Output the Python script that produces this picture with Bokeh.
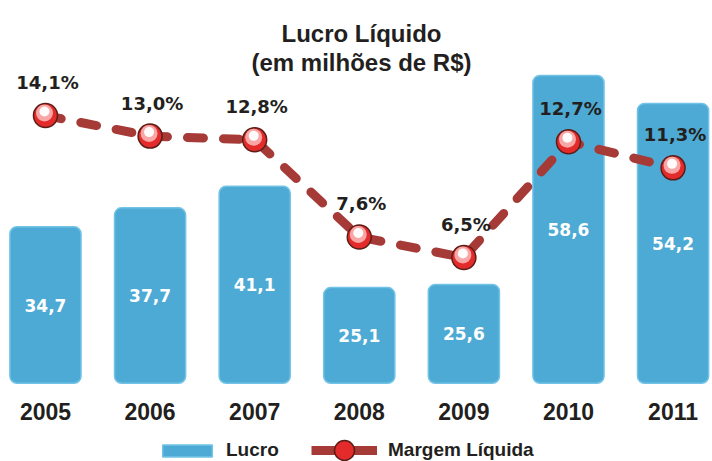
from bokeh.plotting import figure
from bokeh.models import Range1d, Label, Legend, LegendItem, ColumnDataSource
from bokeh.core.properties import value
from bokeh.embed import file_html
from bokeh.resources import INLINE

years = ["2005", "2006", "2007", "2008", "2009", "2010", "2011"]
lucro = [34.7, 37.7, 41.1, 25.1, 25.6, 58.6, 54.2]
lucro_labels = ["34,7", "37,7", "41,1", "25,1", "25,6", "58,6", "54,2"]
margem = [14.1, 13.0, 12.8, 7.6, 6.5, 12.7, 11.3]
margem_labels = ["14,1%", "13,0%", "12,8%", "7,6%", "6,5%", "12,7%", "11,3%"]
bar_base = 10.0

W, H = 712, 461
X0, X1 = -0.430, 6.377
Y0, Y1 = -2.37, 70.46
P0, P1 = -4.42, 20.26
px_x = W / (X1 - X0)
px_p = H / (P1 - P0)

xs = list(range(len(years)))
src = ColumnDataSource(dict(
    x=xs,
    lucro=lucro,
    mid=[(bar_base + v) / 2 for v in lucro],
    lucro_lbl=lucro_labels,
    margem=margem,
    margem_lbl=margem_labels,
    year=years,
    year_y=[5.53] * len(years),
    hx=[x - 1.0 / px_x for x in xs],
    hy2=[m + 2.5 / px_p for m in margem],
    hy3=[m + 4.0 / px_p for m in margem],
))

p = figure(width=W, height=H, output_backend="svg", toolbar_location=None,
           x_range=Range1d(X0, X1), y_range=Range1d(Y0, Y1),
           x_axis_location=None, y_axis_location=None,
           min_border=0, outline_line_color=None)
p.extra_y_ranges = {"pct": Range1d(P0, P1)}
p.xgrid.visible = False
p.ygrid.visible = False
p.background_fill_color = "white"

TXT = "#231f20"

bars = p.vbar(x="x", top="lucro", bottom=bar_base, width=0.68, source=src,
              fill_color="#4daad4", line_color="#72c3e6", line_width=1.5,
              border_radius=7)

p.text(x="x", y="mid", text="lucro_lbl", source=src, text_align="center",
       text_baseline="middle", text_color="white",
       text_font=value("DejaVu Sans"), text_font_style="bold",
       text_font_size="17px")

line = p.line(x="x", y="margem", source=src, y_range_name="pct",
              line_color="#a53a36", line_width=9, line_dash="16 20",
              line_cap="round")

m1 = p.scatter(x="x", y="margem", source=src, y_range_name="pct", size=24,
               fill_color="#e32b2b", line_color="#5b1d17", line_width=1.5)
p.scatter(x="hx", y="hy2", source=src, y_range_name="pct", size=17,
          fill_color="#f9b4b4", fill_alpha=0.9, line_color=None)
p.scatter(x="hx", y="hy3", source=src, y_range_name="pct", size=10,
          fill_color="#ffffff", fill_alpha=0.95, line_color=None)

p.text(x="x", y="margem", text="margem_lbl", source=src, y_range_name="pct",
       y_offset=-33, x_offset=2, text_align="center", text_baseline="middle",
       text_color=TXT, text_font=value("DejaVu Sans"), text_font_style="bold",
       text_font_size="18px")

p.text(x="x", y="year_y", text="year", source=src, text_align="center",
       text_baseline="middle", text_color=TXT,
       text_font=value("Liberation Sans"), text_font_style="bold",
       text_font_size="23px")

for txt, yy in [("Lucro Líquido", 428), ("(em milhões de R$)", 399)]:
    p.add_layout(Label(x=361, y=yy, x_units="screen", y_units="screen",
                       text=txt, text_align="center", text_baseline="alphabetic",
                       text_color=TXT, text_font="Liberation Sans",
                       text_font_style="bold", text_font_size="24px"))

leg_line = p.line(x=[float("nan")], y=[float("nan")], line_color="#a53a36",
                  line_width=9)

common = dict(orientation="horizontal", padding=0, margin=0,
              border_line_color=None, background_fill_alpha=0,
              label_text_font="Liberation Sans", label_text_font_style="bold",
              label_text_font_size="19px", label_text_color=TXT)
legA = Legend(items=[LegendItem(label="Lucro", renderers=[bars])],
              location=(156, 0), glyph_width=62, glyph_height=15,
              label_standoff=8, **common)
legB = Legend(items=[LegendItem(label="Margem Líquida",
                                renderers=[leg_line, m1])],
              location=(311, -14), glyph_width=66, glyph_height=50,
              label_standoff=11, **common)
p.add_layout(legA, "center")
p.add_layout(legB, "center")

open("out.html", "w").write(file_html(p, INLINE))
